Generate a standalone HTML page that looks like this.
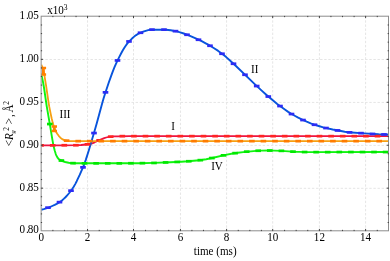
<!DOCTYPE html>
<html><head><meta charset="utf-8"><style>
html,body{margin:0;padding:0;background:#fff;}
body{width:390px;height:261px;overflow:hidden;font-family:"Liberation Serif",serif;}
svg{display:block;will-change:transform;}
</style></head><body>
<svg width="390" height="261" viewBox="0 0 390 261">
<rect width="390" height="261" fill="#fff"/>
<g stroke="#e5e5e5" stroke-width="1" stroke-dasharray="2.4 1.7" fill="none"><line x1="87.55" y1="16.20" x2="87.55" y2="230.80"/><line x1="133.50" y1="16.20" x2="133.50" y2="230.80"/><line x1="180.45" y1="16.20" x2="180.45" y2="230.80"/><line x1="226.60" y1="16.20" x2="226.60" y2="230.80"/><line x1="272.70" y1="16.20" x2="272.70" y2="230.80"/><line x1="319.40" y1="16.20" x2="319.40" y2="230.80"/><line x1="365.60" y1="16.20" x2="365.60" y2="230.80"/><line x1="41.30" y1="188.31" x2="388.50" y2="188.31"/><line x1="41.30" y1="145.37" x2="388.50" y2="145.37"/><line x1="41.30" y1="102.43" x2="388.50" y2="102.43"/><line x1="41.30" y1="59.49" x2="388.50" y2="59.49"/></g>
<clipPath id="c"><rect x="41.30" y="14.20" width="349.20" height="218.60"/></clipPath>
<g clip-path="url(#c)"><polyline points="41.2,145.3 63.7,145.3 76.2,145.2 81.2,145.0 85.7,144.5 88.2,144.2 90.2,143.8 91.2,143.6 92.2,143.3 94.7,142.3 98.2,140.7 104.2,138.2 106.2,137.5 108.2,137.0 111.2,136.6 113.7,136.4 117.7,136.3 129.7,136.1 388.5,136.1" fill="none" stroke="#ee1440" stroke-width="1.8" stroke-linejoin="round"/>
<polyline points="41.2,64.8 41.7,65.6 42.2,66.8 42.7,68.2 43.7,71.8 44.2,74.2 46.2,86.4 48.2,100.2 49.2,106.4 50.7,113.9 51.7,118.5 52.7,122.6 53.7,126.2 54.7,129.0 55.7,131.2 57.2,133.8 58.7,135.8 60.2,137.5 61.2,138.4 61.7,138.7 62.7,139.4 63.7,139.9 64.7,140.3 65.7,140.5 67.2,140.8 68.7,141.0 70.7,141.2 72.2,141.2 388.5,141.2" fill="none" stroke="#f6a012" stroke-width="1.8" stroke-linejoin="round"/>
<polyline points="41.2,74.5 42.2,78.3 43.2,83.0 44.2,89.0 46.7,106.1 50.2,126.4 52.2,138.6 53.2,144.1 53.7,146.4 54.7,150.5 55.7,153.8 56.2,155.1 57.2,157.1 57.7,157.9 58.2,158.5 58.7,159.0 59.7,159.7 61.2,160.5 63.7,161.5 65.2,162.0 66.2,162.2 68.7,162.7 70.7,163.0 74.2,163.2 78.2,163.2 83.7,163.3 125.2,163.3 139.2,163.2 153.7,162.9 170.2,162.3 181.2,161.7 188.2,161.3 193.7,160.8 199.7,160.2 202.7,159.8 206.2,159.2 213.2,157.7 222.2,155.6 225.7,154.9 232.7,153.5 237.7,152.7 243.2,152.1 248.2,151.6 256.2,150.9 261.2,150.6 269.2,150.5 274.2,150.6 281.2,150.9 288.7,151.4 293.2,151.7 299.2,151.9 308.2,152.1 388.5,152.0" fill="none" stroke="#10f410" stroke-width="1.9" stroke-linejoin="round"/>
<polyline points="41.2,209.8 43.7,209.1 46.2,208.3 49.2,207.3 52.2,206.0 54.7,204.9 56.7,203.9 58.7,202.7 60.7,201.4 62.2,200.2 63.7,198.9 65.2,197.5 67.2,195.3 69.2,193.0 71.2,190.4 72.2,189.0 73.7,186.7 75.2,184.1 76.7,181.2 79.7,174.9 83.2,166.8 84.2,164.3 85.7,160.1 88.7,150.7 94.7,130.6 96.7,123.6 102.2,103.3 103.7,98.1 105.2,93.2 108.7,82.8 111.7,74.4 113.2,70.4 114.7,66.7 117.2,61.1 119.2,57.1 121.2,53.3 122.7,50.5 124.2,48.0 125.7,45.7 127.2,43.6 128.7,41.8 130.2,40.3 132.2,38.3 134.2,36.6 136.2,35.1 138.2,33.8 140.2,32.8 143.2,31.7 145.7,30.8 148.2,30.1 150.2,29.8 151.7,29.7 164.2,29.7 165.7,29.7 168.2,30.0 170.7,30.3 175.7,31.2 177.7,31.7 180.2,32.4 183.7,33.5 188.2,35.1 191.7,36.6 195.7,38.4 201.7,41.2 205.7,43.3 209.2,45.2 213.7,48.0 218.2,50.9 222.7,54.2 226.2,57.1 229.7,60.2 236.2,66.2 254.2,83.6 261.7,90.6 265.7,94.2 269.2,97.3 273.7,101.0 277.2,103.9 280.7,106.5 285.2,109.8 288.2,111.9 291.2,113.8 294.7,115.8 298.2,117.7 302.2,119.6 306.7,121.7 310.7,123.3 314.2,124.6 318.7,126.0 323.2,127.3 327.7,128.4 332.7,129.5 337.2,130.3 344.7,131.7 348.2,132.2 351.7,132.5 364.2,133.4 378.7,134.2 388.5,134.5" fill="none" stroke="#0854dc" stroke-width="1.9" stroke-linejoin="round"/>
<rect x="38.3" y="144.0" width="5.6" height="2.7" fill="#ff2424"/><rect x="49.9" y="144.0" width="5.6" height="2.7" fill="#ff2424"/><rect x="61.5" y="143.9" width="5.6" height="2.7" fill="#ff2424"/><rect x="73.1" y="143.9" width="5.6" height="2.7" fill="#ff2424"/><rect x="84.7" y="143.0" width="5.6" height="2.7" fill="#ff2424"/><rect x="96.3" y="139.0" width="5.6" height="2.7" fill="#ff2424"/><rect x="107.9" y="135.3" width="5.6" height="2.7" fill="#ff2424"/><rect x="119.5" y="134.8" width="5.6" height="2.7" fill="#ff2424"/><rect x="131.1" y="134.8" width="5.6" height="2.7" fill="#ff2424"/><rect x="142.7" y="134.8" width="5.6" height="2.7" fill="#ff2424"/><rect x="154.3" y="134.8" width="5.6" height="2.7" fill="#ff2424"/><rect x="165.9" y="134.8" width="5.6" height="2.7" fill="#ff2424"/><rect x="177.5" y="134.8" width="5.6" height="2.7" fill="#ff2424"/><rect x="189.1" y="134.8" width="5.6" height="2.7" fill="#ff2424"/><rect x="200.7" y="134.8" width="5.6" height="2.7" fill="#ff2424"/><rect x="212.3" y="134.8" width="5.6" height="2.7" fill="#ff2424"/><rect x="223.9" y="134.8" width="5.6" height="2.7" fill="#ff2424"/><rect x="235.5" y="134.8" width="5.6" height="2.7" fill="#ff2424"/><rect x="247.1" y="134.8" width="5.6" height="2.7" fill="#ff2424"/><rect x="258.7" y="134.8" width="5.6" height="2.7" fill="#ff2424"/><rect x="270.3" y="134.8" width="5.6" height="2.7" fill="#ff2424"/><rect x="281.9" y="134.8" width="5.6" height="2.7" fill="#ff2424"/><rect x="293.5" y="134.8" width="5.6" height="2.7" fill="#ff2424"/><rect x="305.1" y="134.8" width="5.6" height="2.7" fill="#ff2424"/><rect x="316.7" y="134.8" width="5.6" height="2.7" fill="#ff2424"/><rect x="328.3" y="134.8" width="5.6" height="2.7" fill="#ff2424"/><rect x="339.9" y="134.8" width="5.6" height="2.7" fill="#ff2424"/><rect x="351.5" y="134.8" width="5.6" height="2.7" fill="#ff2424"/><rect x="363.1" y="134.8" width="5.6" height="2.7" fill="#ff2424"/><rect x="374.7" y="134.8" width="5.6" height="2.7" fill="#ff2424"/>
<rect x="63.8" y="139.3" width="5.6" height="2.7" fill="#ff7c00"/><rect x="75.4" y="139.8" width="5.6" height="2.7" fill="#ff7c00"/><rect x="86.9" y="139.8" width="5.6" height="2.7" fill="#ff7c00"/><rect x="98.5" y="139.8" width="5.6" height="2.7" fill="#ff7c00"/><rect x="110.1" y="139.8" width="5.6" height="2.7" fill="#ff7c00"/><rect x="121.7" y="139.8" width="5.6" height="2.7" fill="#ff7c00"/><rect x="133.3" y="139.8" width="5.6" height="2.7" fill="#ff7c00"/><rect x="144.8" y="139.8" width="5.6" height="2.7" fill="#ff7c00"/><rect x="156.4" y="139.8" width="5.6" height="2.7" fill="#ff7c00"/><rect x="168.0" y="139.8" width="5.6" height="2.7" fill="#ff7c00"/><rect x="179.6" y="139.8" width="5.6" height="2.7" fill="#ff7c00"/><rect x="191.2" y="139.8" width="5.6" height="2.7" fill="#ff7c00"/><rect x="202.7" y="139.8" width="5.6" height="2.7" fill="#ff7c00"/><rect x="214.3" y="139.8" width="5.6" height="2.7" fill="#ff7c00"/><rect x="225.9" y="139.8" width="5.6" height="2.7" fill="#ff7c00"/><rect x="237.5" y="139.8" width="5.6" height="2.7" fill="#ff7c00"/><rect x="249.1" y="139.8" width="5.6" height="2.7" fill="#ff7c00"/><rect x="260.6" y="139.8" width="5.6" height="2.7" fill="#ff7c00"/><rect x="272.2" y="139.8" width="5.6" height="2.7" fill="#ff7c00"/><rect x="283.8" y="139.8" width="5.6" height="2.7" fill="#ff7c00"/><rect x="295.4" y="139.8" width="5.6" height="2.7" fill="#ff7c00"/><rect x="307.0" y="139.8" width="5.6" height="2.7" fill="#ff7c00"/><rect x="318.5" y="139.8" width="5.6" height="2.7" fill="#ff7c00"/><rect x="330.1" y="139.8" width="5.6" height="2.7" fill="#ff7c00"/><rect x="341.7" y="139.8" width="5.6" height="2.7" fill="#ff7c00"/><rect x="353.3" y="139.8" width="5.6" height="2.7" fill="#ff7c00"/><rect x="364.9" y="139.8" width="5.6" height="2.7" fill="#ff7c00"/><rect x="376.4" y="139.8" width="5.6" height="2.7" fill="#ff7c00"/>
<rect x="47.0" y="122.7" width="5.6" height="2.7" fill="#00e800"/><rect x="58.6" y="159.2" width="5.6" height="2.7" fill="#00e800"/><rect x="70.2" y="161.8" width="5.6" height="2.7" fill="#00e800"/><rect x="81.7" y="162.0" width="5.6" height="2.7" fill="#00e800"/><rect x="93.3" y="162.0" width="5.6" height="2.7" fill="#00e800"/><rect x="104.9" y="162.0" width="5.6" height="2.7" fill="#00e800"/><rect x="116.5" y="162.0" width="5.6" height="2.7" fill="#00e800"/><rect x="128.1" y="161.9" width="5.6" height="2.7" fill="#00e800"/><rect x="139.6" y="161.8" width="5.6" height="2.7" fill="#00e800"/><rect x="151.2" y="161.6" width="5.6" height="2.7" fill="#00e800"/><rect x="162.8" y="161.1" width="5.6" height="2.7" fill="#00e800"/><rect x="174.4" y="160.6" width="5.6" height="2.7" fill="#00e800"/><rect x="186.0" y="159.9" width="5.6" height="2.7" fill="#00e800"/><rect x="197.5" y="158.8" width="5.6" height="2.7" fill="#00e800"/><rect x="209.1" y="156.7" width="5.6" height="2.7" fill="#00e800"/><rect x="220.7" y="154.0" width="5.6" height="2.7" fill="#00e800"/><rect x="232.3" y="151.8" width="5.6" height="2.7" fill="#00e800"/><rect x="243.9" y="150.3" width="5.6" height="2.7" fill="#00e800"/><rect x="255.4" y="149.4" width="5.6" height="2.7" fill="#00e800"/><rect x="267.0" y="149.2" width="5.6" height="2.7" fill="#00e800"/><rect x="278.6" y="149.5" width="5.6" height="2.7" fill="#00e800"/><rect x="290.2" y="150.3" width="5.6" height="2.7" fill="#00e800"/><rect x="301.8" y="150.7" width="5.6" height="2.7" fill="#00e800"/><rect x="313.3" y="150.8" width="5.6" height="2.7" fill="#00e800"/><rect x="324.9" y="150.8" width="5.6" height="2.7" fill="#00e800"/><rect x="336.5" y="150.7" width="5.6" height="2.7" fill="#00e800"/><rect x="348.1" y="150.7" width="5.6" height="2.7" fill="#00e800"/><rect x="359.7" y="150.7" width="5.6" height="2.7" fill="#00e800"/><rect x="371.2" y="150.7" width="5.6" height="2.7" fill="#00e800"/><rect x="382.8" y="150.7" width="5.6" height="2.7" fill="#00e800"/>
<rect x="45.2" y="206.3" width="5.6" height="2.7" fill="#2c2cf4"/><rect x="56.7" y="200.8" width="5.6" height="2.7" fill="#2c2cf4"/><rect x="68.2" y="189.3" width="5.6" height="2.7" fill="#2c2cf4"/><rect x="80.2" y="166.0" width="5.6" height="2.7" fill="#2c2cf4"/><rect x="91.2" y="131.7" width="5.6" height="2.7" fill="#2c2cf4"/><rect x="102.7" y="91.0" width="5.6" height="2.7" fill="#2c2cf4"/><rect x="114.7" y="59.1" width="5.6" height="2.7" fill="#2c2cf4"/><rect x="126.2" y="40.1" width="5.6" height="2.7" fill="#2c2cf4"/><rect x="137.7" y="31.4" width="5.6" height="2.7" fill="#2c2cf4"/><rect x="149.2" y="28.3" width="5.6" height="2.7" fill="#2c2cf4"/><rect x="161.2" y="28.3" width="5.6" height="2.7" fill="#2c2cf4"/><rect x="172.7" y="29.8" width="5.6" height="2.7" fill="#2c2cf4"/><rect x="184.2" y="33.4" width="5.6" height="2.7" fill="#2c2cf4"/><rect x="195.7" y="38.4" width="5.6" height="2.7" fill="#2c2cf4"/><rect x="207.2" y="44.4" width="5.6" height="2.7" fill="#2c2cf4"/><rect x="219.2" y="52.4" width="5.6" height="2.7" fill="#2c2cf4"/><rect x="230.7" y="62.4" width="5.6" height="2.7" fill="#2c2cf4"/><rect x="242.2" y="73.4" width="5.6" height="2.7" fill="#2c2cf4"/><rect x="253.9" y="84.7" width="5.6" height="2.7" fill="#2c2cf4"/><rect x="265.5" y="95.2" width="5.6" height="2.7" fill="#2c2cf4"/><rect x="277.2" y="104.7" width="5.6" height="2.7" fill="#2c2cf4"/><rect x="288.7" y="112.7" width="5.6" height="2.7" fill="#2c2cf4"/><rect x="300.2" y="118.7" width="5.6" height="2.7" fill="#2c2cf4"/><rect x="311.7" y="123.4" width="5.6" height="2.7" fill="#2c2cf4"/><rect x="323.2" y="126.7" width="5.6" height="2.7" fill="#2c2cf4"/><rect x="334.7" y="129.1" width="5.6" height="2.7" fill="#2c2cf4"/><rect x="346.7" y="131.0" width="5.6" height="2.7" fill="#2c2cf4"/><rect x="358.2" y="131.8" width="5.6" height="2.7" fill="#2c2cf4"/><rect x="369.7" y="132.6" width="5.6" height="2.7" fill="#2c2cf4"/><rect x="381.2" y="133.1" width="5.6" height="2.7" fill="#2c2cf4"/>
<path d="M40.7 68.0H46.1M40.7 74.5H46.1" stroke="#ff8000" stroke-width="2.4" fill="none"/><path d="M43.4 68.0V74.5" stroke="#ff8000" stroke-width="2.8" fill="none"/>
<path d="M51.6 126.5H57.0M51.6 131.0H57.0" stroke="#ff8000" stroke-width="2.4" fill="none"/><path d="M54.3 126.5V131.0" stroke="#ff8000" stroke-width="2.8" fill="none"/></g>
<rect x="41.15" y="16.20" width="347.35" height="214.60" fill="none" stroke="#8c8c8c" stroke-width="1"/>
<g stroke="#444" stroke-width="1"><line x1="52.88" y1="231.10" x2="52.88" y2="229.85"/><line x1="52.88" y1="15.90" x2="52.88" y2="17.15"/><line x1="64.47" y1="231.10" x2="64.47" y2="229.85"/><line x1="64.47" y1="15.90" x2="64.47" y2="17.15"/><line x1="76.06" y1="231.10" x2="76.06" y2="229.85"/><line x1="76.06" y1="15.90" x2="76.06" y2="17.15"/><line x1="87.55" y1="231.10" x2="87.55" y2="228.90"/><line x1="87.55" y1="15.90" x2="87.55" y2="18.10"/><line x1="99.22" y1="231.10" x2="99.22" y2="229.85"/><line x1="99.22" y1="15.90" x2="99.22" y2="17.15"/><line x1="110.81" y1="231.10" x2="110.81" y2="229.85"/><line x1="110.81" y1="15.90" x2="110.81" y2="17.15"/><line x1="122.39" y1="231.10" x2="122.39" y2="229.85"/><line x1="122.39" y1="15.90" x2="122.39" y2="17.15"/><line x1="133.50" y1="231.10" x2="133.50" y2="228.90"/><line x1="133.50" y1="15.90" x2="133.50" y2="18.10"/><line x1="145.56" y1="231.10" x2="145.56" y2="229.85"/><line x1="145.56" y1="15.90" x2="145.56" y2="17.15"/><line x1="157.15" y1="231.10" x2="157.15" y2="229.85"/><line x1="157.15" y1="15.90" x2="157.15" y2="17.15"/><line x1="168.74" y1="231.10" x2="168.74" y2="229.85"/><line x1="168.74" y1="15.90" x2="168.74" y2="17.15"/><line x1="180.45" y1="231.10" x2="180.45" y2="228.90"/><line x1="180.45" y1="15.90" x2="180.45" y2="18.10"/><line x1="191.91" y1="231.10" x2="191.91" y2="229.85"/><line x1="191.91" y1="15.90" x2="191.91" y2="17.15"/><line x1="203.49" y1="231.10" x2="203.49" y2="229.85"/><line x1="203.49" y1="15.90" x2="203.49" y2="17.15"/><line x1="215.07" y1="231.10" x2="215.07" y2="229.85"/><line x1="215.07" y1="15.90" x2="215.07" y2="17.15"/><line x1="226.60" y1="231.10" x2="226.60" y2="228.90"/><line x1="226.60" y1="15.90" x2="226.60" y2="18.10"/><line x1="238.25" y1="231.10" x2="238.25" y2="229.85"/><line x1="238.25" y1="15.90" x2="238.25" y2="17.15"/><line x1="249.83" y1="231.10" x2="249.83" y2="229.85"/><line x1="249.83" y1="15.90" x2="249.83" y2="17.15"/><line x1="261.42" y1="231.10" x2="261.42" y2="229.85"/><line x1="261.42" y1="15.90" x2="261.42" y2="17.15"/><line x1="272.70" y1="231.10" x2="272.70" y2="228.90"/><line x1="272.70" y1="15.90" x2="272.70" y2="18.10"/><line x1="284.59" y1="231.10" x2="284.59" y2="229.85"/><line x1="284.59" y1="15.90" x2="284.59" y2="17.15"/><line x1="296.17" y1="231.10" x2="296.17" y2="229.85"/><line x1="296.17" y1="15.90" x2="296.17" y2="17.15"/><line x1="307.76" y1="231.10" x2="307.76" y2="229.85"/><line x1="307.76" y1="15.90" x2="307.76" y2="17.15"/><line x1="319.40" y1="231.10" x2="319.40" y2="228.90"/><line x1="319.40" y1="15.90" x2="319.40" y2="18.10"/><line x1="330.93" y1="231.10" x2="330.93" y2="229.85"/><line x1="330.93" y1="15.90" x2="330.93" y2="17.15"/><line x1="342.51" y1="231.10" x2="342.51" y2="229.85"/><line x1="342.51" y1="15.90" x2="342.51" y2="17.15"/><line x1="354.10" y1="231.10" x2="354.10" y2="229.85"/><line x1="354.10" y1="15.90" x2="354.10" y2="17.15"/><line x1="365.60" y1="231.10" x2="365.60" y2="228.90"/><line x1="365.60" y1="15.90" x2="365.60" y2="18.10"/><line x1="377.27" y1="231.10" x2="377.27" y2="229.85"/><line x1="377.27" y1="15.90" x2="377.27" y2="17.15"/><line x1="40.85" y1="222.51" x2="42.10" y2="222.51"/><line x1="388.90" y1="222.51" x2="387.65" y2="222.51"/><line x1="40.85" y1="213.92" x2="42.10" y2="213.92"/><line x1="388.90" y1="213.92" x2="387.65" y2="213.92"/><line x1="40.85" y1="205.34" x2="42.10" y2="205.34"/><line x1="388.90" y1="205.34" x2="387.65" y2="205.34"/><line x1="40.85" y1="196.75" x2="42.10" y2="196.75"/><line x1="388.90" y1="196.75" x2="387.65" y2="196.75"/><line x1="40.85" y1="188.16" x2="43.05" y2="188.16"/><line x1="388.90" y1="188.16" x2="386.70" y2="188.16"/><line x1="40.85" y1="179.57" x2="42.10" y2="179.57"/><line x1="388.90" y1="179.57" x2="387.65" y2="179.57"/><line x1="40.85" y1="170.98" x2="42.10" y2="170.98"/><line x1="388.90" y1="170.98" x2="387.65" y2="170.98"/><line x1="40.85" y1="162.40" x2="42.10" y2="162.40"/><line x1="388.90" y1="162.40" x2="387.65" y2="162.40"/><line x1="40.85" y1="153.81" x2="42.10" y2="153.81"/><line x1="388.90" y1="153.81" x2="387.65" y2="153.81"/><line x1="40.85" y1="145.22" x2="43.05" y2="145.22"/><line x1="388.90" y1="145.22" x2="386.70" y2="145.22"/><line x1="40.85" y1="136.63" x2="42.10" y2="136.63"/><line x1="388.90" y1="136.63" x2="387.65" y2="136.63"/><line x1="40.85" y1="128.04" x2="42.10" y2="128.04"/><line x1="388.90" y1="128.04" x2="387.65" y2="128.04"/><line x1="40.85" y1="119.46" x2="42.10" y2="119.46"/><line x1="388.90" y1="119.46" x2="387.65" y2="119.46"/><line x1="40.85" y1="110.87" x2="42.10" y2="110.87"/><line x1="388.90" y1="110.87" x2="387.65" y2="110.87"/><line x1="40.85" y1="102.28" x2="43.05" y2="102.28"/><line x1="388.90" y1="102.28" x2="386.70" y2="102.28"/><line x1="40.85" y1="93.69" x2="42.10" y2="93.69"/><line x1="388.90" y1="93.69" x2="387.65" y2="93.69"/><line x1="40.85" y1="85.10" x2="42.10" y2="85.10"/><line x1="388.90" y1="85.10" x2="387.65" y2="85.10"/><line x1="40.85" y1="76.52" x2="42.10" y2="76.52"/><line x1="388.90" y1="76.52" x2="387.65" y2="76.52"/><line x1="40.85" y1="67.93" x2="42.10" y2="67.93"/><line x1="388.90" y1="67.93" x2="387.65" y2="67.93"/><line x1="40.85" y1="59.34" x2="43.05" y2="59.34"/><line x1="388.90" y1="59.34" x2="386.70" y2="59.34"/><line x1="40.85" y1="50.75" x2="42.10" y2="50.75"/><line x1="388.90" y1="50.75" x2="387.65" y2="50.75"/><line x1="40.85" y1="42.16" x2="42.10" y2="42.16"/><line x1="388.90" y1="42.16" x2="387.65" y2="42.16"/><line x1="40.85" y1="33.58" x2="42.10" y2="33.58"/><line x1="388.90" y1="33.58" x2="387.65" y2="33.58"/><line x1="40.85" y1="24.99" x2="42.10" y2="24.99"/><line x1="388.90" y1="24.99" x2="387.65" y2="24.99"/></g>
<g font-family="Liberation Serif, serif" font-size="12.0" fill="#000"><text transform="translate(41.30,240.70)  scale(0.925,1)" text-anchor="middle">0</text><text transform="translate(87.55,240.70)  scale(0.925,1)" text-anchor="middle">2</text><text transform="translate(133.50,240.70)  scale(0.925,1)" text-anchor="middle">4</text><text transform="translate(180.45,240.70)  scale(0.925,1)" text-anchor="middle">6</text><text transform="translate(226.60,240.70)  scale(0.925,1)" text-anchor="middle">8</text><text transform="translate(272.70,240.70)  scale(0.925,1)" text-anchor="middle">10</text><text transform="translate(319.40,240.70)  scale(0.925,1)" text-anchor="middle">12</text><text transform="translate(365.60,240.70)  scale(0.925,1)" text-anchor="middle">14</text><text transform="translate(38.80,233.40)  scale(0.925,1)" text-anchor="end">0<tspan dx="1.1">.</tspan><tspan dx="-1.1">80</tspan></text><text transform="translate(38.80,190.76)  scale(0.925,1)" text-anchor="end">0<tspan dx="1.1">.</tspan><tspan dx="-1.1">85</tspan></text><text transform="translate(38.80,147.82)  scale(0.925,1)" text-anchor="end">0<tspan dx="1.1">.</tspan><tspan dx="-1.1">90</tspan></text><text transform="translate(38.80,104.88)  scale(0.925,1)" text-anchor="end">0<tspan dx="1.1">.</tspan><tspan dx="-1.1">95</tspan></text><text transform="translate(38.80,61.94)  scale(0.925,1)" text-anchor="end">1<tspan dx="1.1">.</tspan><tspan dx="-1.1">00</tspan></text><text transform="translate(38.80,19.00)  scale(0.925,1)" text-anchor="end">1<tspan dx="1.1">.</tspan><tspan dx="-1.1">05</tspan></text><text transform="translate(47.20,13.80)  scale(0.925,1)" text-anchor="start">x10<tspan dy="-4.2" font-size="8.2">3</tspan></text><text transform="translate(215.20,254.90)  scale(0.925,1)" text-anchor="middle">time (ms)</text><text transform="translate(65.00,117.80)  scale(0.925,1)" text-anchor="middle">III</text><text transform="translate(173.00,130.00)  scale(0.925,1)" text-anchor="middle">I</text><text transform="translate(254.80,73.20)  scale(0.925,1)" text-anchor="middle">II</text><text transform="translate(217.00,170.00)  scale(0.925,1)" text-anchor="middle">IV</text><text transform="translate(12.60,146.30) rotate(-90) scale(0.925,1)" text-anchor="start">&lt;<tspan font-style="italic">R</tspan><tspan dy="2.2" dx="-0.3" font-size="6.8" font-style="italic">g</tspan><tspan dy="-5.6" dx="-0.3" font-size="8.2">2</tspan><tspan dy="3.4" dx="2.8">&gt;</tspan><tspan dx="1.2">,</tspan><tspan dx="1.9">Å</tspan><tspan dy="-3.4" dx="-0.5" font-size="8.2">2</tspan></text></g>
</svg>
</body></html>
